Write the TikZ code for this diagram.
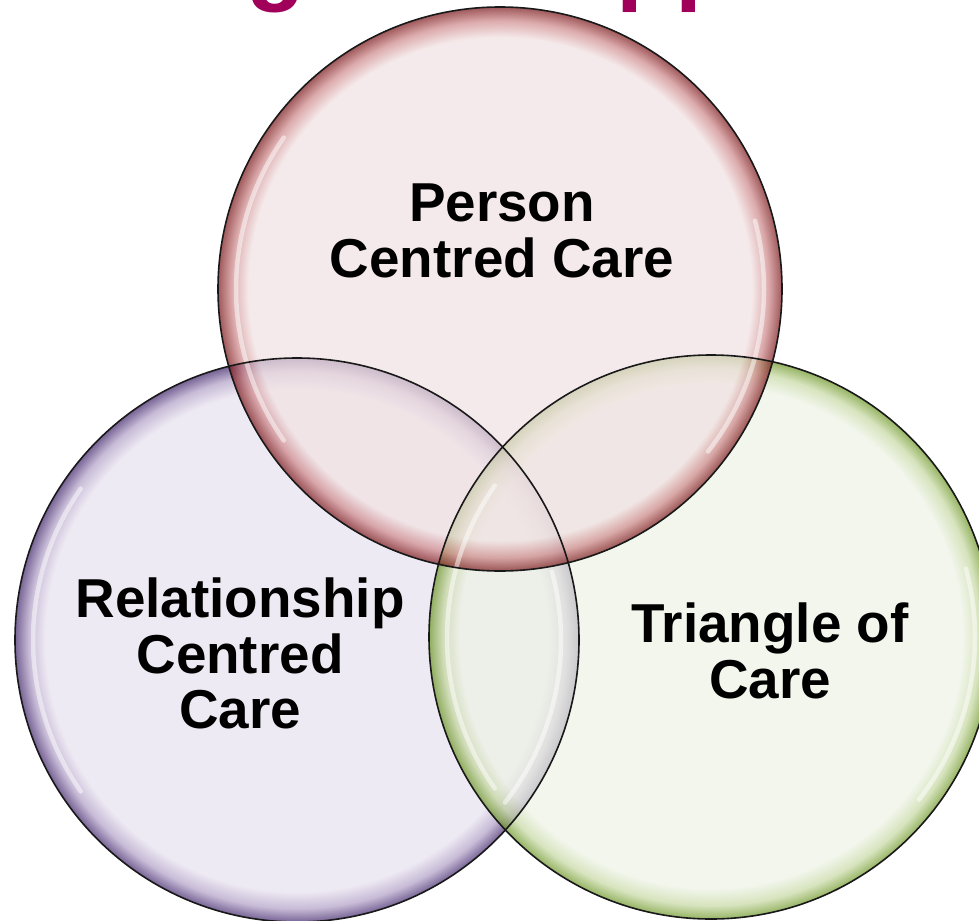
\documentclass[tikz,border=0pt]{standalone}
\usepackage{fontspec}
\setmainfont{Liberation Sans}
\usetikzlibrary{positioning}

% glass colours: light body, coloured rim, dark edge
\definecolor{headmag}{RGB}{160,0,90}
\definecolor{redin}{RGB}{241,225,226}
\definecolor{redmid}{RGB}{205,134,136}
\definecolor{redout}{RGB}{119,19,22}
\definecolor{purin}{RGB}{231,225,238}
\definecolor{purmid}{RGB}{176,159,198}
\definecolor{purout}{RGB}{62,34,105}
\definecolor{grnin}{RGB}{236,242,228}
\definecolor{grnmid}{RGB}{198,216,162}
\definecolor{grnout}{RGB}{105,148,34}

% the inner 25bp maps onto the circle
\pgfdeclareradialshading{redglass}{\pgfpoint{0bp}{0bp}}{%
  color(0bp)=(redin); color(22.3bp)=(redin); color(23.8bp)=(redmid); color(25bp)=(redout); color(50bp)=(redout)}
\pgfdeclareradialshading{purglass}{\pgfpoint{0bp}{0bp}}{%
  color(0bp)=(purin); color(22.3bp)=(purin); color(23.8bp)=(purmid); color(25bp)=(purout); color(50bp)=(purout)}
\pgfdeclareradialshading{grnglass}{\pgfpoint{0bp}{0bp}}{%
  color(0bp)=(grnin); color(22.3bp)=(grnin); color(23.8bp)=(grnmid); color(25bp)=(grnout); color(50bp)=(grnout)}

\tikzset{
  bubble/.style={circle, minimum size=5.64cm, inner sep=0pt, outer sep=0pt, fill opacity=0.7},
  rimline/.style={draw=black!90, line width=0.016cm},
  gloss/.style={draw=white, line width=0.045cm, draw opacity=0.5, line cap=round},
  lbl/.style={font=\fontsize{15.6}{15.9}\selectfont\bfseries, align=center, inner sep=0pt},
  headtxt/.style={font=\fontsize{27.5}{30}\selectfont\bfseries, text=headmag, inner sep=0pt, anchor=base west},
}

\begin{document}
\begin{tikzpicture}

\useasboundingbox (0,0) rectangle (9.79,9.20);
\clip (0,0) rectangle (9.79,9.20);

% heading above, only its descenders show
\node[headtxt] (headg) at (2.46,9.27) {g};
\node[headtxt] (headpp) at (6.16,9.27) {pp};

% Glass circles
\node[bubble, shading=purglass] (rcc) at (2.97,2.80) {};
\node[bubble, shading=grnglass] (toc) at (7.11,2.83) {};
\node[bubble, shading=redglass] (pcc) at (5.00,6.31) {};

% highlights inside the rims
\foreach \c in {rcc,toc,pcc} {
  \draw[gloss, shift={(\c.center)}] (145:2.64) arc[start angle=145, end angle=215, radius=2.64];
  \draw[gloss, shift={(\c.center)}] (-38:2.64) arc[start angle=-38, end angle=15, radius=2.64];
}

% outlines on top
\foreach \c in {rcc,toc,pcc}
  \draw[rimline] (\c.center) circle (2.82);

% Labels
\node[lbl] (pcclbl) at (5.02,6.895) {Person\\Centred Care};
\node[lbl] (rcclbl) at (2.40,2.665) {Relationship\\Centred\\Care};
\node[lbl] (toclbl) at (7.70,2.695) {Triangle of\\Care};

\end{tikzpicture}
\end{document}
